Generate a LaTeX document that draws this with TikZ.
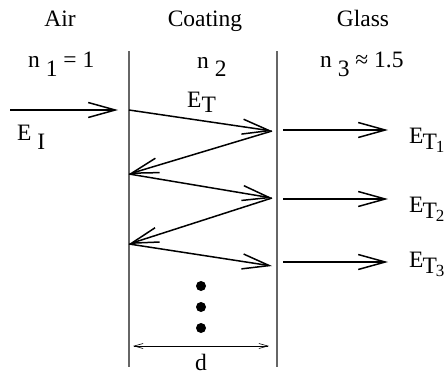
\documentclass[tikz,border=0pt]{standalone}
\usepackage{fontspec}
\setmainfont{Liberation Serif}
\usetikzlibrary{arrows.meta}

% lowered index, same size as the text
\newcommand{\dn}[2][0.42em]{\raisebox{-#1}{#2}}

\tikzset{
  lbl/.style={font=\fontsize{23.5}{26}\selectfont, inner sep=0pt},
  iface/.style={gray!80!black, line width=1.4pt},
  ray/.style={line width=1.5pt, -{Straight Barb[length=27pt,width=15pt,line width=1.5pt]}},
  gap/.style={line width=0.6pt, {Straight Barb[length=9pt,width=5pt]}-{Straight Barb[length=9pt,width=5pt]}},
  dot/.style={circle, fill, inner sep=0pt, minimum size=10pt}
}

\begin{document}
\begin{tikzpicture}[x=1pt, y=-1pt]
  \useasboundingbox (0,0) rectangle (447,375);

  % Parameters
  \def\xleft{129}
  \def\xright{277}

  % Headings
  \node[lbl, anchor=base] (air) at (60,26) {Air};
  \node[lbl, anchor=base] (coat) at (205,26) {Coating};
  \node[lbl, anchor=base] (glass) at (363,26) {Glass};
  \node[lbl, anchor=base west] (nA) at (28,67) {n \dn{1} = 1};
  \node[lbl, anchor=base west] (nB) at (197,68) {n \dn[0.38em]{2}};
  \node[lbl, anchor=base west] (nC) at (320,67) {n \dn{3} ≈ 1.5};

  % Interfaces
  \draw[iface] (\xleft,51) -- (\xleft,367);
  \draw[iface] (\xright,51) -- (\xright,367);

  % Incident ray
  \coordinate (src) at (10,110);
  \coordinate (hit) at (118,110);
  \draw[ray] (src) -- (hit);
  \node[lbl, anchor=base west] (EI) at (17,140) {E \dn[0.4em]{I}};

  % Bounce points inside the coating
  \coordinate (L1) at (\xleft,110);
  \coordinate (L2) at (\xleft,174);
  \coordinate (L3) at (\xleft,244);
  \coordinate (R1) at (272,131);
  \coordinate (R2) at (272,198);
  \coordinate (R3) at (272,266);

  \draw[ray] (L1) -- (R1);
  \draw[ray] (R1) -- (L2);
  \draw[ray] (L2) -- (R2);
  \draw[ray] (R2) -- (L3);
  \draw[ray] (L3) -- (R3);
  \node[lbl, anchor=base west] (ET) at (187,107) {E\dn[0.25em]{T}};

  % Transmitted rays
  \foreach \i/\y/\b in {1/130/143, 2/199/212, 3/262/267} {
    \coordinate (out\i) at (283,\y);
    \coordinate (end\i) at (388,\y);
    \draw[ray] (out\i) -- (end\i);
    \node[lbl, anchor=base west] (ETT\i) at (409,\b)
      {E\dn[0.28em]{\kern-1pt T\dn[0.12em]{\kern-1pt\fontsize{17}{18}\selectfont\i}}};
  }

  % More reflections
  \foreach \y [count=\k] in {286,307,328} {
    \node[dot] (dot\k) at (201,\y) {};
  }

  % Thickness
  \coordinate (dA) at (133,346);
  \coordinate (dB) at (269,346);
  \draw[gap] (dA) -- (dB);
  \node[lbl, anchor=base] (d) at (201,370) {d};

\end{tikzpicture}
\end{document}
